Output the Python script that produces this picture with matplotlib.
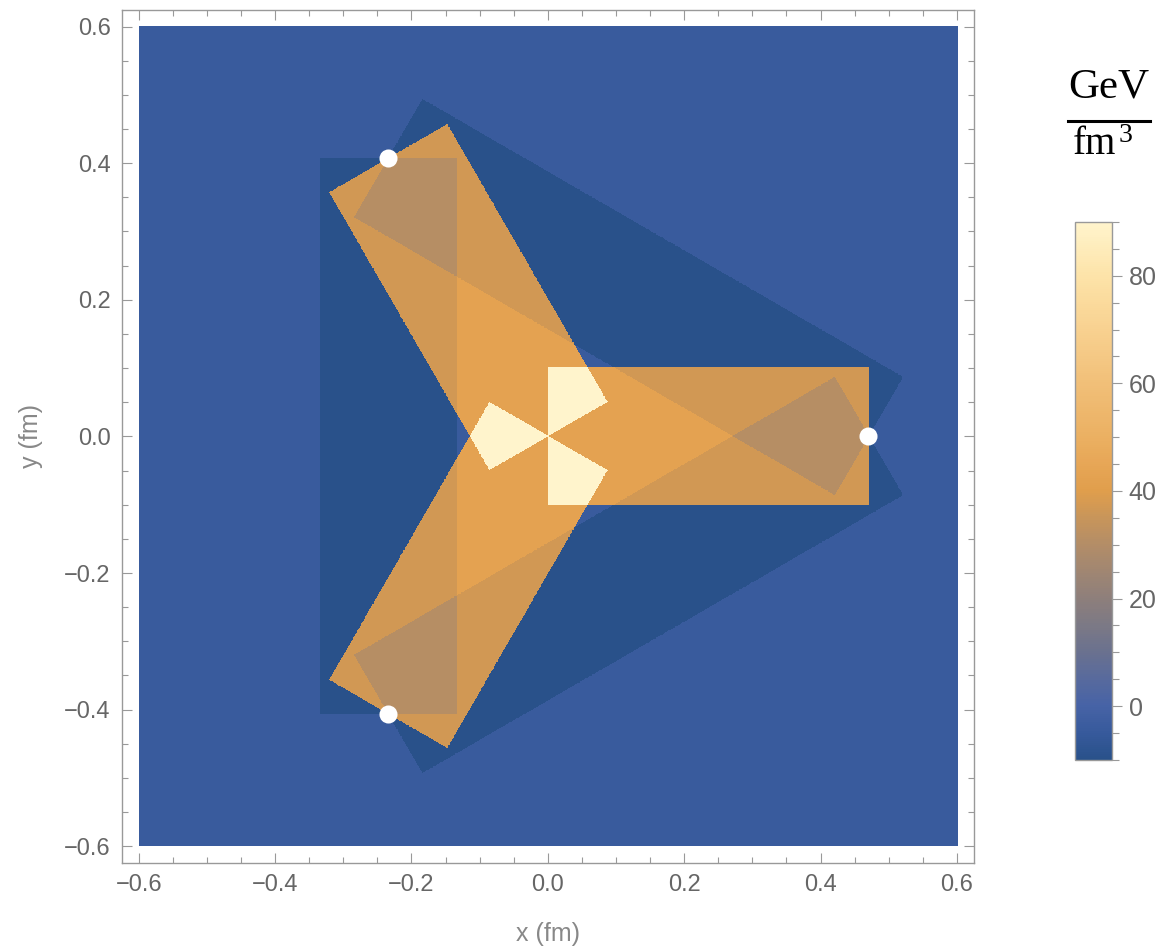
import numpy as np
import matplotlib
matplotlib.use("Agg")
import matplotlib.pyplot as plt
from matplotlib.colors import LinearSegmentedColormap
from matplotlib.ticker import MultipleLocator
from matplotlib.lines import Line2D

plt.rcParams['font.family'] = ['Liberation Sans', 'DejaVu Sans']

# Quark positions (fm), Y-shaped baryon configuration
quark_x = [0.47, -0.235, -0.235]
quark_y = [0.0, 0.407, -0.407]
junction = (0.0, 0.0)
tube_half_width = 0.1  # fm

# Energy-density levels (GeV/fm^3)
vacuum_level = -4.0
arm_level = 47.0     # added inside each junction-to-quark flux tube
pair_level = -6.0    # added inside each quark-to-quark strip

# Colour scale (value -> colour)
cbar_min, cbar_max = -10, 90
cbar_ticks = [0, 20, 40, 60, 80]
scale_values = [-10, -5, 0, 5, 10, 15, 20, 25, 30, 35, 40, 45, 50, 60, 70, 80, 90]
scale_colors = ['#29518a', '#375a9c', '#4763a6', '#586a9d', '#6a718f', '#7c7985',
                '#8e7f7b', '#a08672', '#b38d67', '#c8955a', '#e09e4c', '#e7a656',
                '#ebb062', '#f1bf78', '#f8d190', '#fde3a8', '#fff4cc']

axis_ticks = [-0.6, -0.4, -0.2, 0.0, 0.2, 0.4, 0.6]
x_label = "x (fm)"
y_label = "y (fm)"


def strip_mask(px, py, a, b, hw):
    ax_, ay_ = a
    bx_, by_ = b
    dx, dy = bx_ - ax_, by_ - ay_
    length = np.hypot(dx, dy)
    ux, uy = dx / length, dy / length
    t = (px - ax_) * ux + (py - ay_) * uy
    s = -(px - ax_) * uy + (py - ay_) * ux
    return (t >= 0) & (t <= length) & (np.abs(s) <= hw)


n = 1400
g = np.linspace(-0.6, 0.6, n)
X, Y = np.meshgrid(g, g)
quarks = list(zip(quark_x, quark_y))

density = np.full(X.shape, vacuum_level)
for q in quarks:
    density += arm_level * strip_mask(X, Y, junction, q, tube_half_width)
for i in range(len(quarks)):
    for j in range(i + 1, len(quarks)):
        density += pair_level * strip_mask(X, Y, quarks[i], quarks[j], tube_half_width)

cmap = LinearSegmentedColormap.from_list(
    "density",
    [((v - cbar_min) / (cbar_max - cbar_min), c) for v, c in zip(scale_values, scale_colors)])

W, H = 1164, 948
fig = plt.figure(figsize=(W / 100, H / 100), dpi=100)
ax_l, ax_r, ax_t, ax_b = 121.7, 974.0, 9.5, 863.3
ax = fig.add_axes([ax_l / W, 1 - ax_b / H, (ax_r - ax_l) / W, (ax_b - ax_t) / H])

im = ax.imshow(density, extent=[-0.6, 0.6, -0.6, 0.6], origin='lower', cmap=cmap,
               vmin=cbar_min, vmax=cbar_max, interpolation='nearest')
ax.plot(quark_x, quark_y, 'o', color='white', markersize=13, markeredgewidth=0, zorder=5)

ax.set_xlim(-0.625, 0.625)
ax.set_ylim(-0.625, 0.625)
ax.set_aspect('auto')

frame_col = '#999999'
text_col = '#666666'
for sp in ax.spines.values():
    sp.set_color(frame_col)
    sp.set_linewidth(1.0)
ax.set_xticks(axis_ticks)
ax.set_yticks(axis_ticks)
ax.set_xticklabels([f"{t:.1f}".replace('-', '\u2212') for t in axis_ticks])
ax.set_yticklabels([f"{t:.1f}".replace('-', '\u2212') for t in axis_ticks])
ax.xaxis.set_minor_locator(MultipleLocator(0.05))
ax.yaxis.set_minor_locator(MultipleLocator(0.05))
ax.tick_params(which='both', direction='in', top=True, right=True, color=frame_col,
               width=0.8, labelcolor=text_col, labelsize=17)
ax.tick_params(which='major', length=7.5, pad=8)
ax.tick_params(which='minor', length=4.5)
ax.set_xlabel(x_label, fontsize=18, color='#888888')
ax.set_ylabel(y_label, fontsize=18, color='#888888')
ax.xaxis.label.set_va('center')
ax.yaxis.label.set_va('center')
ax.xaxis.set_label_coords((548 - ax_l) / (ax_r - ax_l), (ax_b - 934) / (ax_b - ax_t))
ax.yaxis.set_label_coords((31 - ax_l) / (ax_r - ax_l), (ax_b - 436) / (ax_b - ax_t))

# Colour bar
cax = fig.add_axes([1075 / W, 1 - 760 / H, 37 / W, (760 - 222) / H])
cb = fig.colorbar(im, cax=cax, ticks=cbar_ticks)
cb.outline.set_edgecolor(frame_col)
cb.outline.set_linewidth(1.0)
cax.yaxis.set_minor_locator(MultipleLocator(5))
cax.tick_params(which='both', direction='out', color=frame_col, width=0.8,
                labelcolor=text_col, labelsize=18)
cax.tick_params(which='major', length=7, pad=5)
cax.tick_params(which='minor', length=5)

# Unit label: GeV / fm^3
serif = ['Liberation Serif', 'DejaVu Serif']
fig.text(1109 / W, 1 - 98 / H, "GeV", family=serif, fontsize=31, ha='center',
         va='baseline', color='black')
fig.text(1073 / W, 1 - 154 / H, "fm", family=serif, fontsize=28, ha='left',
         va='baseline', color='black')
fig.text(1119 / W, 1 - 142 / H, "3", family=serif, fontsize=20, ha='left',
         va='baseline', color='black')
fig.add_artist(Line2D([1068 / W, 1150 / W], [1 - 121 / H, 1 - 121 / H],
                      transform=fig.transFigure, color='black', linewidth=2.2))

fig.savefig("out.png", dpi=100)
